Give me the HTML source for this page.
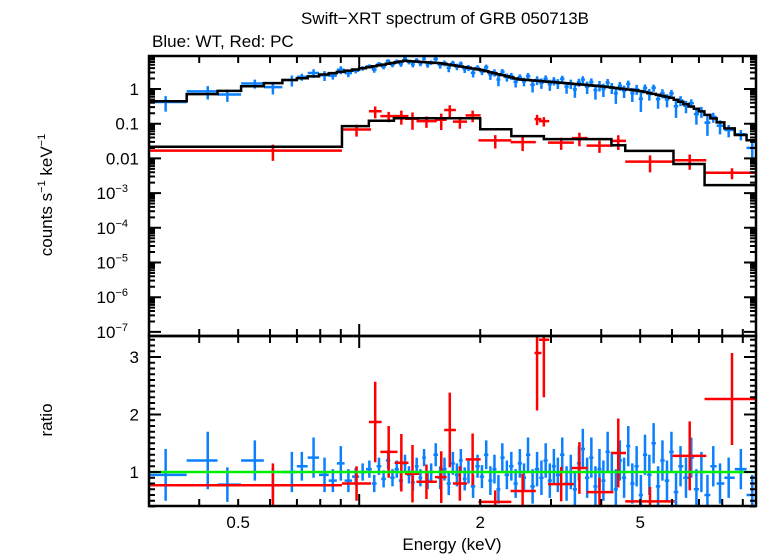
<!DOCTYPE html>
<html><head><meta charset="utf-8"><style>
body{margin:0;background:#fff;}
svg{display:block;font-family:"Liberation Sans",Arial,sans-serif;}
</style></head><body>
<svg id="c" width="758" height="556">
<text x="445" y="24" font-size="17" text-anchor="middle">Swift−XRT spectrum of GRB 050713B</text>
<text x="152" y="47" font-size="17">Blue: WT, Red: PC</text>
<text transform="translate(52,195) rotate(-90)" font-size="17" text-anchor="middle">counts s<tspan font-size="11" dy="-7">−1</tspan><tspan dy="7"> keV</tspan><tspan font-size="11" dy="-7">−1</tspan></text>
<text transform="translate(52,420) rotate(-90)" font-size="17" text-anchor="middle">ratio</text>
<text x="452" y="550" font-size="17" text-anchor="middle">Energy (keV)</text>
<g id="g"></g>
</svg>
<script>
const blueE=[0.33,0.42,0.47,0.55,0.61,0.68,0.72,0.77,0.82,0.86,0.9,0.94,0.98,1.02,1.06,1.09,1.12,1.15,1.18,1.21,1.24,1.27,1.3,1.33,1.36,1.39,1.42,1.45,1.48,1.51,1.55,1.59,1.63,1.67,1.71,1.75,1.79,1.83,1.87,1.92,1.97,2.02,2.07,2.12,2.17,2.22,2.27,2.33,2.39,2.45,2.51,2.57,2.63,2.7,2.77,2.84,2.91,2.98,3.05,3.12,3.2,3.28,3.36,3.44,3.52,3.6,3.69,3.78,3.87,3.96,4.05,4.15,4.25,4.35,4.45,4.56,4.67,4.78,4.9,5.02,5.14,5.27,5.4,5.54,5.68,5.83,5.98,6.14,6.3,6.5,6.7,6.9,7.1,7.35,7.6,7.9,8.3,8.9,9.5];
const blueRatio=[0.95,1.2,0.78,1.2,0.77,1.0,1.1,1.25,0.95,0.85,1.15,0.85,0.92,1.0,1.05,0.8,1.1,0.88,1.2,0.9,1.05,0.85,1.15,0.95,0.82,1.1,0.9,1.25,0.85,1.0,1.3,0.9,1.05,0.8,1.15,0.95,1.2,0.88,1.0,0.75,1.1,0.92,1.3,0.85,1.05,0.7,1.25,0.95,1.1,0.8,1.15,0.9,1.3,0.75,1.05,0.9,1.2,0.85,1.1,0.95,1.3,0.8,1.0,0.7,1.15,1.4,0.9,1.25,0.75,1.05,0.85,1.35,1.0,0.7,1.2,0.9,1.45,0.8,1.1,0.6,1.3,0.95,1.5,0.75,1.2,0.85,1.35,0.65,1.1,0.9,1.25,0.7,1.0,0.6,1.1,0.8,0.9,1.05,0.6];
const blueErr=[0.45,0.5,0.3,0.35,0.3,0.35,0.25,0.35,0.3,0.2,0.3,0.2,0.15,0.15,0.15,0.15,0.15,0.15,0.15,0.15,0.15,0.15,0.15,0.15,0.15,0.15,0.15,0.15,0.15,0.15,0.2,0.2,0.2,0.2,0.2,0.2,0.2,0.2,0.2,0.2,0.2,0.2,0.25,0.25,0.25,0.25,0.25,0.25,0.25,0.25,0.25,0.25,0.3,0.3,0.3,0.3,0.3,0.3,0.3,0.3,0.3,0.3,0.3,0.3,0.3,0.35,0.35,0.35,0.35,0.35,0.35,0.35,0.35,0.35,0.35,0.35,0.35,0.35,0.35,0.35,0.35,0.35,0.35,0.35,0.35,0.35,0.35,0.35,0.35,0.35,0.35,0.35,0.35,0.35,0.35,0.35,0.35,0.35,0.35];
const blueModelE=[0.3,0.5,0.8,1.0,1.3,1.6,2.0,2.5,3.0,4.0,5.0,6.0,7.0,8.0,8.5,9.7];
const blueModelF=[0.37,1.0,2.5,3.8,6.5,5.5,3.6,1.9,1.6,1.2,0.88,0.55,0.25,0.1,0.06,0.03];
const redLo=[0.302,0.906,1.057,1.129,1.225,1.30,1.388,1.544,1.627,1.71,1.84,1.98,2.38,2.73,2.80,2.95,3.38,3.68,4.24,4.59,6.02,7.23];
const redHi=[0.906,1.07,1.137,1.245,1.326,1.41,1.56,1.65,1.74,1.855,2.005,2.39,2.75,2.84,2.97,3.42,3.70,4.29,4.61,6.09,7.30,9.69];
const redE=[0.61,0.985,1.096,1.184,1.273,1.357,1.47,1.60,1.68,1.78,1.915,2.18,2.55,2.77,2.88,3.18,3.53,3.96,4.41,5.29,6.64,8.46];
const redRatio=[0.77,0.8,1.87,1.35,1.16,0.97,0.83,0.91,1.73,0.8,1.22,0.48,0.67,3.07,3.3,0.79,1.07,0.65,1.33,0.49,1.28,2.27];
const redErr=[0.38,0.3,0.7,0.45,0.5,0.5,0.3,0.45,0.65,0.3,0.45,0.2,0.3,1.0,1.0,0.3,0.45,0.25,0.6,0.25,0.6,0.8];
const redModelEdges=[0.3,0.906,1.057,1.22,2.0,2.39,2.88,4.24,4.59,6.05,7.23,9.7];
const redModelF=[0.0217,0.085,0.122,0.143,0.069,0.044,0.036,0.024,0.0165,0.0069,0.0017];
const xTicks=[0.5,2,5];
const yTopTicks=[1,0.1,0.01,1e-3,1e-4,1e-5,1e-6,1e-7];
const yTopLabels=["1","0.1","0.01","10","10","10","10","10"];
const yTopExp=["","","","−3","−4","−5","−6","−7"];
const yBotTicks=[1,2,3];

const L=149,R=756,T1=56,B1=336,B2=506;
const X=e=>L+(Math.log10(e)-Math.log10(0.3))*402;
const Y1=f=>89-Math.log10(f)*34.7;
const Y2=r=>472-(r-1)*57.5;
const g=document.getElementById('g');
const NS='http://www.w3.org/2000/svg';
function mk(t,a,p){const e=document.createElementNS(NS,t);for(const k in a)e.setAttribute(k,a[k]);(p||g).appendChild(e);return e;}
function bmodel(e){for(let i=0;i<blueModelE.length-1;i++){if(e<=blueModelE[i+1]){const t=(Math.log(e)-Math.log(blueModelE[i]))/(Math.log(blueModelE[i+1])-Math.log(blueModelE[i]));return Math.exp(Math.log(blueModelF[i])*(1-t)+Math.log(blueModelF[i+1])*t);}}return blueModelF[blueModelF.length-1];}
function rmodel(e){for(let i=0;i<redModelF.length;i++){if(e<redModelEdges[i+1])return redModelF[i];}return redModelF[redModelF.length-1];}
const clipT=mk('clipPath',{id:'ct'});mk('rect',{x:L,y:T1,width:R-L,height:B1-T1},clipT);
const clipB=mk('clipPath',{id:'cb'});mk('rect',{x:L,y:B1,width:R-L,height:B2-B1},clipB);
const gt=mk('g',{'clip-path':'url(#ct)'});


const gb=mk('g',{'clip-path':'url(#cb)'});


const n=Math.min(blueE.length,blueRatio.length,blueErr.length);
const bLo=[],bHi=[];
for(let i=0;i<n;i++){
  const lo=i==0?0.3:Math.sqrt(blueE[i-1]*blueE[i]);
  const hi=i==n-1?9.7:Math.sqrt(blueE[i]*blueE[i+1]);
  bLo.push(lo);bHi.push(hi);
}
let rp='';
for(let i=0;i<redModelF.length;i++){const y=Y1(redModelF[i]);rp+=(i==0?'M':'L')+X(redModelEdges[i])+','+y+'L'+X(redModelEdges[i+1])+','+y;}
function cross(par,x1,x2,xc,y,y1,y2,col,name){
  const e=mk('path',{d:`M${x1},${y}H${x2}M${xc},${y1}V${y2}`,stroke:col,'stroke-width':2.5,fill:'none'},par);
  
  
}
for(let i=0;i<n;i++){
  const m=bmodel(blueE[i]),f=blueRatio[i]*m,fe=blueErr[i]*m;
  cross(gt,X(bLo[i]),X(bHi[i]),X(blueE[i]),Y1(f),Y1(f+fe),Y1(Math.max(f-fe,1e-9)),'#0a80ff','wt-data-point');
  cross(gb,X(bLo[i]),X(bHi[i]),X(blueE[i]),Y2(blueRatio[i]),Y2(blueRatio[i]+blueErr[i]),Y2(blueRatio[i]-blueErr[i]),'#0a80ff','wt-ratio-point');
}
for(let i=0;i<redLo.length;i++){
  const ec=redE[i];const m=rmodel(ec),f=redRatio[i]*m,fe=redErr[i]*m;
  cross(gt,X(redLo[i]),X(redHi[i]),X(ec),Y1(f),Y1(f+fe),Y1(Math.max(f-fe,1e-9)),'#ff0000','pc-data-point');
  cross(gb,X(redLo[i]),X(redHi[i]),X(ec),Y2(redRatio[i]),Y2(redRatio[i]+redErr[i]),Y2(redRatio[i]-redErr[i]),'#ff0000','pc-ratio-point');
}
let bp='';
for(let i=0;i<n;i++){const y=Y1(bmodel(blueE[i]));bp+=(i==0?'M':'L')+X(bLo[i])+','+y+'L'+X(bHi[i])+','+y;}
const bm=mk('path',{d:bp,stroke:'#000','stroke-width':2.5,fill:'none'},gt);


const rm=mk('path',{d:rp,stroke:'#000','stroke-width':2.5,fill:'none'},gt);


const gl=mk('line',{x1:L,x2:R,y1:Y2(1),y2:Y2(1),stroke:'#00ee00','stroke-width':2.5},gb);


const f1=mk('rect',{x:L,y:T1,width:R-L,height:B1-T1,fill:'none',stroke:'#000','stroke-width':2.5});


const f2=mk('rect',{x:L,y:B1,width:R-L,height:B2-B1,fill:'none',stroke:'#000','stroke-width':2.5});


let tp='';
for(let d=0.1;d<=10;d*=10){for(let k=1;k<10;k++){const e=k*d;if(e<0.3||e>9.7)continue;const x=X(e);const big=(k==1);const len=big?12:7;
 tp+=`M${x},${T1}v${len}M${x},${B1}v${-len}M${x},${B1}v${len}M${x},${B2}v${-len}`;}}
for(let p=-7;p<=0;p++){for(let k=1;k<10;k++){const f=k*Math.pow(10,p);const y=Y1(f);if(y<T1||y>B1)continue;const len=k==1?12:6;tp+=`M${L},${y}h${len}M${R},${y}h${-len}`;}}
for(let r=0.4;r<=3.31;r+=0.1){const y=Y2(r);const big=Math.abs(r-Math.round(r))<0.01;const len=big?12:6;tp+=`M${L},${y}h${len}M${R},${y}h${-len}`;}
const tk=mk('path',{d:tp,stroke:'#000','stroke-width':2,fill:'none'});


xTicks.forEach(v=>{const t=mk('text',{x:X(v),y:528,'font-size':17,'text-anchor':'middle'});t.textContent=String(v);
 
 });
yTopTicks.forEach((v,i)=>{const t=mk('text',{x:yTopExp[i]?128:139,y:Y1(v)+6,'font-size':17,'text-anchor':'end'});t.textContent=yTopLabels[i];
 if(yTopExp[i]){const s=document.createElementNS(NS,'tspan');s.setAttribute('font-size','11');s.setAttribute('dy','-7');s.textContent=yTopExp[i];t.appendChild(s);}
 
 });
yBotTicks.forEach(v=>{const t=mk('text',{x:139,y:Y2(v)+6,'font-size':17,'text-anchor':'end'});t.textContent=String(v);
 
 });
</script>
</body></html>
